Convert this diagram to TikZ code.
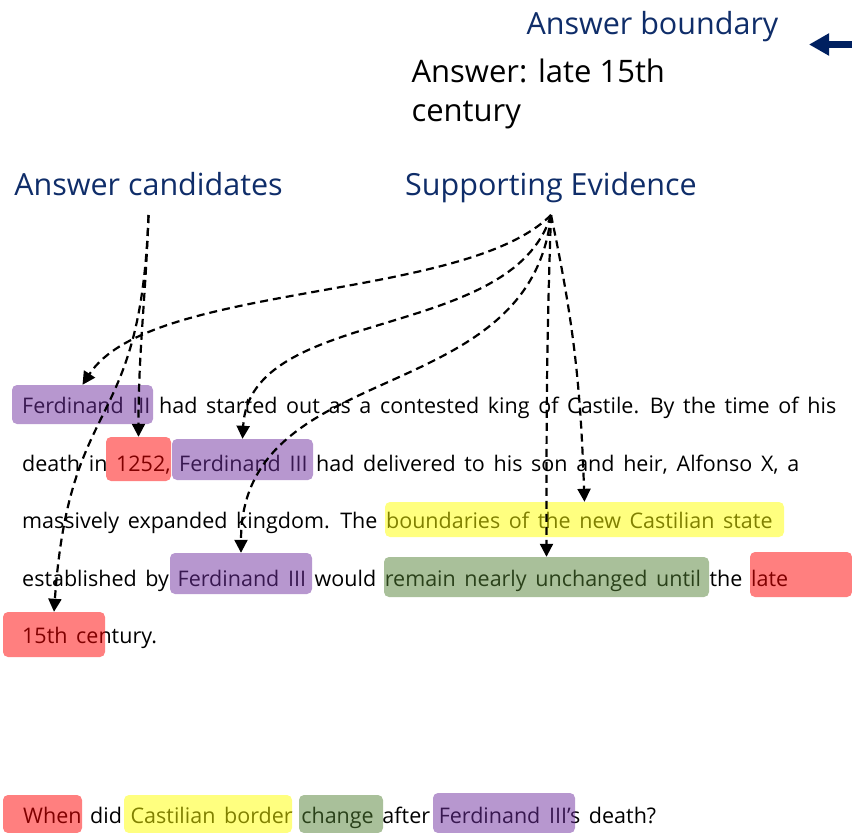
\documentclass[tikz,border=0pt]{standalone}
\usepackage{fontspec}
\setmainfont{Open Sans}
\newfontfamily\bodyfont{Open Sans}[WordSpace=1.55]
\usepackage{tikz}
\usetikzlibrary{positioning,arrows.meta,calc}
\definecolor{cnavy}{HTML}{0F2D69}
\definecolor{cdark}{HTML}{002060}
\definecolor{cred}{HTML}{FF0000}
\definecolor{cyel}{HTML}{FFFF00}
\definecolor{cgrn}{HTML}{548235}
\definecolor{cpur}{HTML}{7030A0}
\tikzset{
 hdr/.style={font=\fontsize{30.5}{36}\selectfont, text=cnavy},
 txt/.style={anchor=base west, inner sep=0pt, font=\bodyfont\fontsize{21.5}{26}\selectfont},
 hl/.style={rectangle, rounded corners=5pt, inner sep=0pt, fill opacity=0.5},
 hlr/.style={hl, fill=cred},
 hly/.style={hl, fill=cyel},
 hlg/.style={hl, fill=cgrn},
 hlp/.style={hl, fill=cpur},
 ev/.style={-{Triangle[length=13pt,width=13pt]}, line width=2.2pt, dash pattern=on 8pt off 5pt},
 bnd/.style={-{Triangle[length=20pt,width=21pt]}, draw=cdark, line width=7pt},
}

\begin{document}
\begin{tikzpicture}[x=1pt,y=1pt]
 \useasboundingbox (0,0) rectangle (852,-833);
 % headers
 \node[hdr, anchor=base west] (AB) at (523,-34) {Answer boundary};
 \node[anchor=base west, align=left, font=\fontsize{31}{39}\selectfont] (ANS) at (408,-121) {Answer: late 15th\\century};
 \node[hdr, anchor=base] (AC) at (148.5,-195) {Answer candidates};
 \node[hdr, anchor=base] (SE) at (551,-195) {Supporting Evidence};
 % passage
 \node[txt] (L1) at (22,-413) {Ferdinand III had started out as a contested king of Castile. By the time of his};
 \node[txt] (L2) at (22,-471) {death in 1252, Ferdinand III had delivered to his son and heir, Alfonso X, a};
 \node[txt] (L3) at (22,-528) {massively expanded kingdom. The boundaries of the new Castilian state};
 \node[txt] (L4) at (22,-586) {established by Ferdinand III would remain nearly unchanged until the late};
 \node[txt] (L5) at (22,-643) {15th century.};
 % question
 \node[txt] (Q) at (23,-823) {When did Castilian border change after Ferdinand III’s death?};
 % highlights
 \node[hlp, minimum width=141pt, minimum height=39pt] (F1) at (82.5,-404.5) {};
 \node[hlr, minimum width=65pt, minimum height=44pt] (Y1252) at (138.5,-459) {};
 \node[hlp, minimum width=141pt, minimum height=41pt] (F2) at (242.5,-459.5) {};
 \node[hly, minimum width=399pt, minimum height=35pt] (BS) at (584.5,-519.5) {};
 \node[hlp, minimum width=142pt, minimum height=41pt] (F3) at (241,-573.5) {};
 \node[hlg, minimum width=325pt, minimum height=40pt] (RU) at (546.5,-577) {};
 \node[hlr, minimum width=102pt, minimum height=45pt] (LATE) at (801,-574.5) {};
 \node[hlr, minimum width=102pt, minimum height=45pt] (C15) at (54,-634.5) {};
 \node[hlr, minimum width=79pt, minimum height=38pt] (QW) at (42.5,-814) {};
 \node[hly, minimum width=168pt, minimum height=38pt] (QC) at (208,-814) {};
 \node[hlg, minimum width=84pt, minimum height=38pt] (QG) at (341,-814) {};
 \node[hlp, minimum width=142pt, minimum height=40pt] (QF) at (504,-813) {};
 % boundary arrow
 \coordinate (BT) at (852,-44.5);
 \coordinate (BH) at (809,-44.5);
 \draw[bnd] (BT) -- (BH);
 % candidates
 \draw[ev] ($(AC.base)+(0,-20)$) to[out=268,in=90] (Y1252.north);
 \draw[ev] ($(AC.base)+(0,-20)$) to[out=268,in=86,looseness=1.4] (C15.north);
 % evidence
 \draw[ev] ($(SE.base)+(0,-20)$) to[out=225,in=57,looseness=0.63] (F1.north);
 \draw[ev] ($(SE.base)+(0,-20)$) to[out=253,in=87,looseness=0.9] (F2.north);
 \draw[ev] ($(SE.base)+(0,-20)$) to[out=264,in=90,looseness=1.1] (F3.north);
 \draw[ev] ($(SE.base)+(0,-20)$) to[out=268,in=90] (RU.north);
 \draw[ev] ($(SE.base)+(0,-20)$) to[out=282,in=92] (BS.north);
\end{tikzpicture}
\end{document}
